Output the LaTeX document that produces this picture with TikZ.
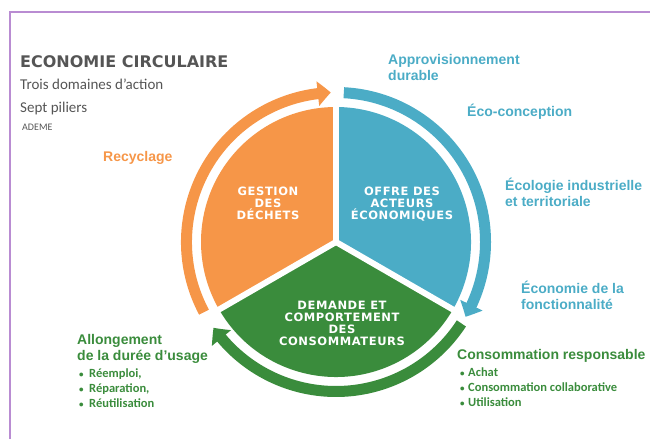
\documentclass[tikz,border=0pt]{standalone}
\usepackage{fontspec}
\setmainfont{Carlito}
\newfontfamily\heavyfont{DejaVu Sans}[LetterSpace=5]
\newfontfamily\titlefont{DejaVu Sans}
\newfontfamily\labelfont{Liberation Sans}
\usetikzlibrary{arrows.meta,bending}
\definecolor{orangeeco}{RGB}{246,150,72}
\definecolor{blueeco}{RGB}{75,172,198}
\definecolor{greeneco}{RGB}{58,140,60}
\definecolor{greytxt}{RGB}{85,85,85}
\definecolor{framecol}{RGB}{185,140,210}

\begin{document}
\begin{tikzpicture}[x=1pt,y=1pt,
    pietext/.style={text=white,align=center,font=\heavyfont\bfseries\fontsize{11.5}{12}\selectfont},
    label/.style={anchor=base west,inner sep=0pt,align=left,font=\labelfont\bfseries\fontsize{14}{16}\selectfont},
    items/.style={anchor=base west,inner sep=0pt,align=left,text=greeneco,font=\bfseries\fontsize{12.5}{15}\selectfont},
    ring/.style={line width=11pt,-{Triangle[width=24pt,length=13pt,bend]}}]
  \useasboundingbox (0,0) rectangle (650,439);
  \draw[framecol,line width=1.5pt] (10,0) -- (10,427) -- (650,427);

  % camembert
  \begin{scope}[shift={(336,197)}]
    \coordinate (o) at (0,0);
    \fill[orangeeco] (o) -- (90:135) arc[start angle=90,end angle=210,radius=135] -- cycle;
    \fill[blueeco] (o) -- (-30:135) arc[start angle=-30,end angle=90,radius=135] -- cycle;
    \fill[greeneco] (o) -- (210:135) arc[start angle=210,end angle=330,radius=135] -- cycle;
    \foreach \a in {90,210,330}
      \draw[white,line width=6pt] (o) -- (\a:140);
    \draw[ring,orangeeco] (208:149.5) arc[start angle=208,end angle=92,radius=149.5];
    \draw[ring,blueeco] (87:149.5) arc[start angle=87,end angle=-30,radius=149.5];
    \draw[ring,greeneco] (-33:149.5) arc[start angle=-33,end angle=-145,radius=149.5];
  \end{scope}

  \node[pietext] (dechets) at (268,236) {GESTION\\DES\\DÉCHETS};
  \node[pietext] (offre) at (402,235) {OFFRE DES\\ACTEURS\\ÉCONOMIQUES};
  \node[pietext] (demande) at (342,116) {DEMANDE ET\\COMPORTEMENT\\DES\\CONSOMMATEURS};

  % titre
  \node[anchor=base west,inner sep=0pt,text=greytxt,font=\titlefont\bfseries\fontsize{16}{18}\selectfont] (titre) at (20,371) {ECONOMIE CIRCULAIRE};
  \node[anchor=base west,inner sep=0pt,text=greytxt,font=\fontsize{15}{16}\selectfont] (domaines) at (20,349) {Trois domaines d’action};
  \node[anchor=base west,inner sep=0pt,text=greytxt,font=\fontsize{15}{16}\selectfont] (piliers) at (20,326) {Sept piliers};
  \node[anchor=base west,inner sep=0pt,text=greytxt,font=\fontsize{10}{12}\selectfont] (ademe) at (22,308) {ADEME};

  % piliers
  \node[label,text=orangeeco] (recyclage) at (103,277) {Recyclage};
  \node[label,text=blueeco] (appro) at (388,358) {Approvisionnement\\durable};
  \node[label,text=blueeco] (ecoconc) at (467,322) {Éco-conception};
  \node[label,text=blueeco] (ecologie) at (505,232) {Écologie industrielle\\et territoriale};
  \node[label,text=blueeco] (fonction) at (521,129) {Économie de la\\fonctionnalité};
  \node[label,text=greeneco] (conso) at (457,80) {Consommation responsable};
  \node[items] (conso list) at (460,33) {\makebox[8pt][l]{\small•}Achat\\\makebox[8pt][l]{\small•}Consommation collaborative\\\makebox[8pt][l]{\small•}Utilisation};
  \node[label,text=greeneco] (allong) at (77,78) {Allongement\\de la durée d’usage};
  \node[items] (allong list) at (79,32) {\makebox[10pt][l]{\small•}Réemploi,\\\makebox[10pt][l]{\small•}Réparation,\\\makebox[10pt][l]{\small•}Réutilisation};
\end{tikzpicture}
\end{document}
